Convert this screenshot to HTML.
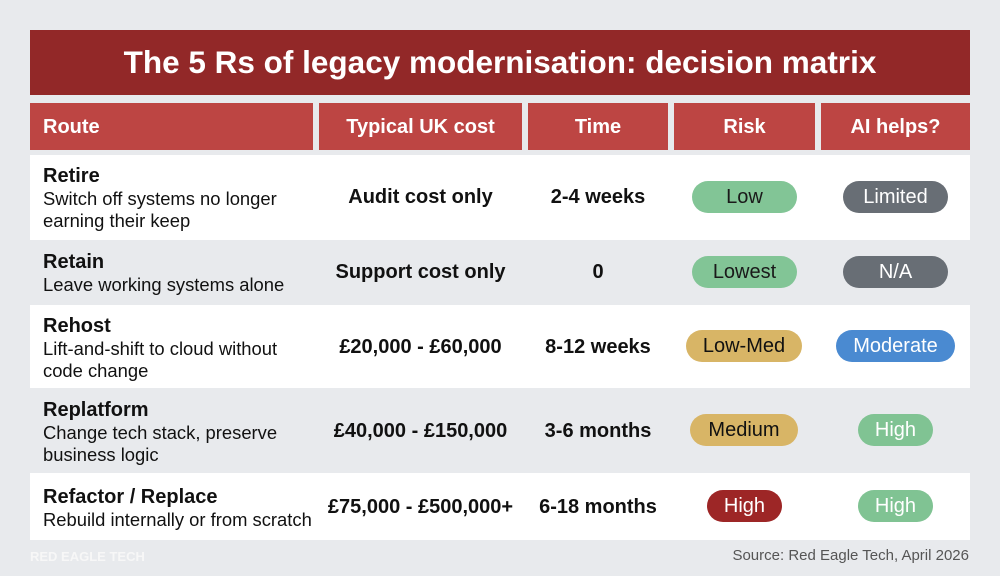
<!DOCTYPE html>
<html><head><style>
body{margin:0;width:1000px;height:576px;background:#e8eaed;font-family:"Liberation Sans",sans-serif;position:relative;overflow:hidden}
.a{position:absolute}
.title{left:30px;top:30px;width:940px;height:65px;background:#922828;color:#fff;font-weight:bold;font-size:31.5px;text-align:center;line-height:65px}
.h{top:103px;height:47px;background:#bd4543;color:#fff;font-weight:bold;font-size:20px;line-height:48px;text-align:center}
.row{left:30px;width:940px}
.w{background:#fff}
.rt{left:43px;font-size:18.4px;color:#111;line-height:22px}
.rt b{font-size:20px;display:block;line-height:24px}
.c{font-weight:bold;font-size:20px;color:#111;text-align:center}
.p{height:32px;border-radius:16px;font-size:20px;line-height:32px;text-align:center}
</style></head><body>
<div class="a title">The 5 Rs of legacy modernisation: decision matrix</div>
<div class="a h" style="left:30px;width:283px;text-align:left;padding-left:13px;box-sizing:border-box">Route</div>
<div class="a h" style="left:319px;width:203px">Typical UK cost</div>
<div class="a h" style="left:528px;width:140px">Time</div>
<div class="a h" style="left:674px;width:141px">Risk</div>
<div class="a h" style="left:821px;width:149px">AI helps?</div>

<div class="a row w" style="top:155px;height:85px"></div>
<div class="a row w" style="top:305px;height:83px"></div>
<div class="a row w" style="top:473px;height:67px"></div>

<div class="a rt" style="top:164px"><b>Retire</b>Switch off systems no longer<br>earning their keep</div>
<div class="a rt" style="top:250px"><b>Retain</b>Leave working systems alone</div>
<div class="a rt" style="top:314px"><b>Rehost</b>Lift-and-shift to cloud without<br>code change</div>
<div class="a rt" style="top:398px"><b>Replatform</b>Change tech stack, preserve<br>business logic</div>
<div class="a rt" style="top:485px"><b>Refactor / Replace</b>Rebuild internally or from scratch</div>

<div class="a c" style="left:319px;width:203px;top:186px">Audit cost only</div>
<div class="a c" style="left:319px;width:203px;top:261px">Support cost only</div>
<div class="a c" style="left:319px;width:203px;top:336px">£20,000 - £60,000</div>
<div class="a c" style="left:319px;width:203px;top:420px">£40,000 - £150,000</div>
<div class="a c" style="left:313px;width:215px;top:496px">£75,000 - £500,000+</div>

<div class="a c" style="left:528px;width:140px;top:186px">2-4 weeks</div>
<div class="a c" style="left:528px;width:140px;top:261px">0</div>
<div class="a c" style="left:528px;width:140px;top:336px">8-12 weeks</div>
<div class="a c" style="left:528px;width:140px;top:420px">3-6 months</div>
<div class="a c" style="left:528px;width:140px;top:496px">6-18 months</div>

<div class="a p" style="left:692px;width:105px;top:181px;background:#82c596;color:#1a1a1a">Low</div>
<div class="a p" style="left:692px;width:105px;top:256px;background:#82c596;color:#1a1a1a">Lowest</div>
<div class="a p" style="left:686px;width:116px;top:330px;background:#d8b566;color:#111">Low-Med</div>
<div class="a p" style="left:690px;width:108px;top:414px;background:#d8b566;color:#111">Medium</div>
<div class="a p" style="left:707px;width:75px;top:490px;background:#9d2626;color:#fff">High</div>

<div class="a p" style="left:843px;width:105px;top:181px;background:#686e75;color:#fff">Limited</div>
<div class="a p" style="left:843px;width:105px;top:256px;background:#686e75;color:#fff">N/A</div>
<div class="a p" style="left:836px;width:119px;top:330px;background:#4a8ad1;color:#fff">Moderate</div>
<div class="a p" style="left:858px;width:75px;top:414px;background:#80c393;color:#fff">High</div>
<div class="a p" style="left:858px;width:75px;top:490px;background:#80c393;color:#fff">High</div>

<div class="a" style="left:30px;top:549px;font-size:13px;font-weight:bold;color:#f7f7f7">RED EAGLE TECH</div>
<div class="a" style="right:31px;top:547px;font-size:15px;color:#555">Source: Red Eagle Tech, April 2026</div>
</body></html>
